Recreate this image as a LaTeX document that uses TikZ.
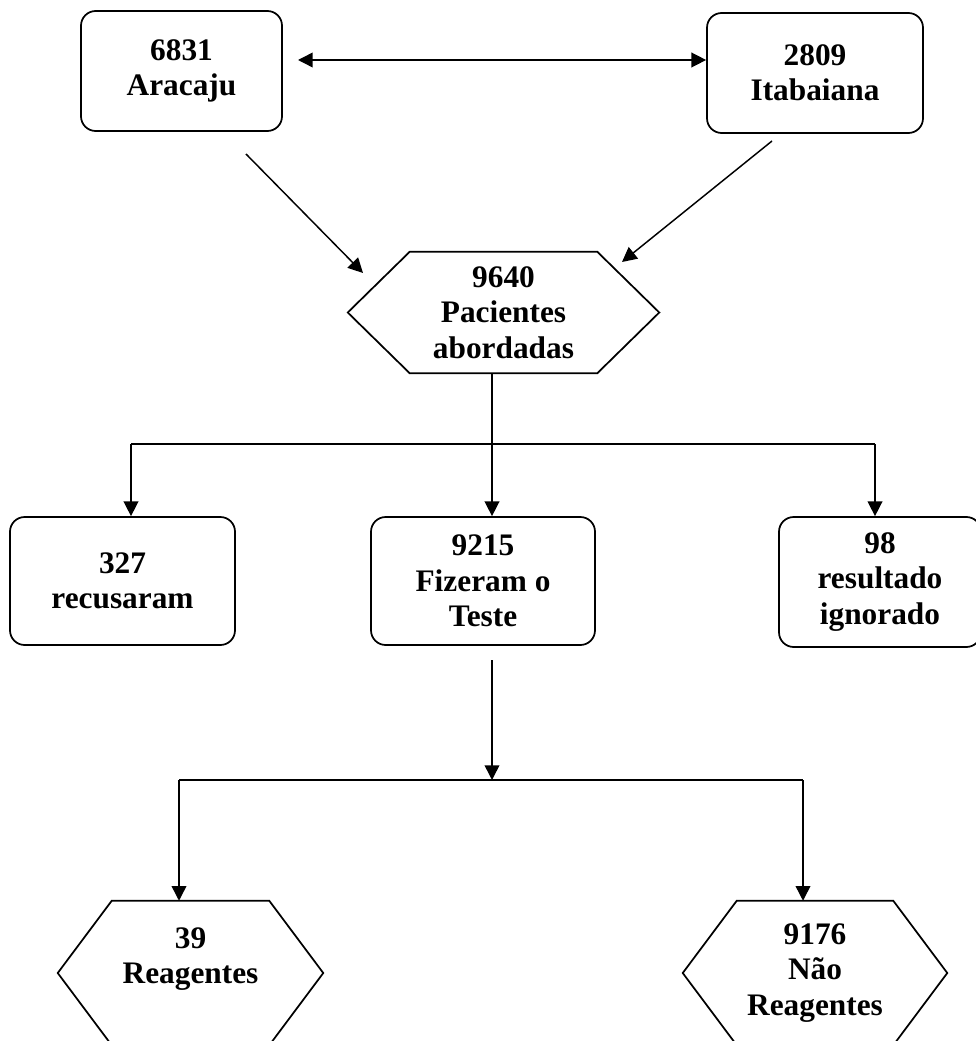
\documentclass[tikz,border=0pt]{standalone}
\usepackage{fontspec}
\setmainfont{Liberation Serif}
\usetikzlibrary{arrows.meta,calc}

\begin{document}
\begin{tikzpicture}[x=0.75pt, y=-0.75pt,
    >={Triangle[length=11pt, width=11pt]},
    every node/.style={font=\bfseries\fontsize{23.5}{26.5}\selectfont, align=center, inner sep=0pt},
    caixa/.style={draw, rounded corners=11pt, line width=1.3pt},
    linha/.style={line width=1.1pt}]
    \useasboundingbox (0,0) rectangle (975,1041);
    % Municipios
    \node[caixa, minimum width=201*0.75pt, minimum height=120*0.75pt] (Aracaju) at (181.5,71) {6831\\Aracaju};
    \node[caixa, minimum width=216*0.75pt, minimum height=120*0.75pt] (Itabaiana) at (815,73) {2809\\Itabaiana};
    % Pacientes
    \node[minimum width=187*0.75pt, minimum height=121*0.75pt] (Abord) at (503.5,312.5) {9640\\Pacientes\\abordadas};
    \node[caixa, minimum width=225*0.75pt, minimum height=128*0.75pt] (Recus) at (122.5,581) {327\\recusaram};
    \node[caixa, minimum width=224*0.75pt, minimum height=128*0.75pt] (Teste) at (483,581) {9215\\Fizeram o\\Teste};
    \node[caixa, minimum width=202*0.75pt, minimum height=130*0.75pt] (Ignor) at (880,582) {98\\resultado\\ignorado};
    % Resultado do teste
    \node[minimum width=157*0.75pt, minimum height=144*0.75pt] (Reag) at (190.5,973) {39\\Reagentes\\\mbox{}};
    \node[minimum width=156*0.75pt, minimum height=144*0.75pt] (NaoReag) at (815,973) {9176\\Não\\Reagentes};
    % Hexagonos
    \foreach \hx/\ext in {Abord/62, Reag/54, NaoReag/54} {
        \draw[line width=1.3pt] (\hx.north west) -- (\hx.north east) -- ($(\hx.east)+(\ext,0)$)
            -- (\hx.south east) -- (\hx.south west) -- ($(\hx.west)-(\ext,0)$) -- cycle;
    }
    % Setas do topo
    \coordinate (Ponte) at (298,60);
    \coordinate (AraOut) at (246,154);
    \coordinate (ItaOut) at (772,141);
    \coordinate (AbordInL) at (363,273);
    \coordinate (AbordInR) at (622,262);
    \draw[linha, <->] (Ponte) -- (Ponte -| Itabaiana.west);
    \draw[linha, ->] (AraOut) -- (AbordInL);
    \draw[linha, ->] (ItaOut) -- (AbordInR);
    % Triagem
    \coordinate (Divide1) at (492,444);
    \coordinate (RamoE) at (131,444);
    \coordinate (RamoD) at (875,444);
    \draw[linha] (Divide1 |- Abord.south) -- (Divide1);
    \draw[linha] (RamoE) -- (RamoD);
    \foreach \ramo/\alvo in {RamoE/Recus, Divide1/Teste, RamoD/Ignor} {
        \draw[linha, ->] (\ramo) -- (\ramo |- \alvo.north);
    }
    % Resultado
    \coordinate (TesteOut) at (492,660);
    \coordinate (Divide2) at (492,780);
    \coordinate (RamoE2) at (179,780);
    \coordinate (RamoD2) at (803,780);
    \draw[linha, ->] (TesteOut) -- (Divide2);
    \draw[linha] (RamoE2) -- (RamoD2);
    \foreach \ramo/\alvo in {RamoE2/Reag, RamoD2/NaoReag} {
        \draw[linha, ->] (\ramo) -- (\ramo |- \alvo.north);
    }
\end{tikzpicture}
\end{document}
